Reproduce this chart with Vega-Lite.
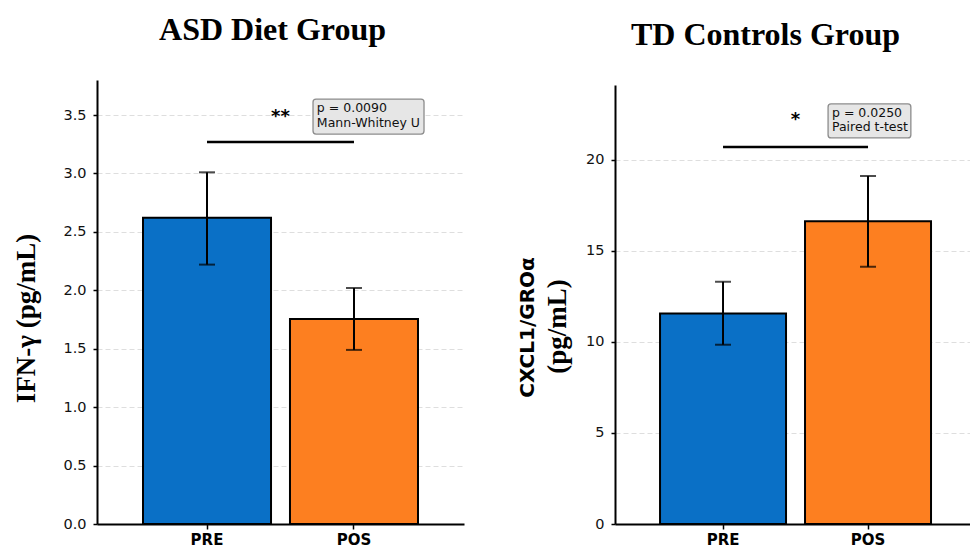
{
  "$schema": "https://vega.github.io/schema/vega-lite/v6.json",
  "background": "white",
  "padding": {"left": 12, "top": 14, "right": 0, "bottom": 0},
  "config": {"view": {"stroke": null}, "font": "DejaVu Sans"},
  "datasets": {
    "asd": [
      {"g": "PRE", "v": 2.62, "lo": 2.22, "hi": 3.01},
      {"g": "POS", "v": 1.755, "lo": 1.49, "hi": 2.02}
    ],
    "asd_sig": [{"g1": "PRE", "g2": "POS", "y": 3.27, "ys": 3.48, "s": "**"}],
    "asd_box": [{"g": "POS", "y1": 3.637, "y2": 3.337}],
    "asd_txt": [
      {"g": "POS", "t": "p = 0.0090", "y": 3.56},
      {"g": "POS", "t": "Mann-Whitney U", "y": 3.43}
    ],
    "td": [
      {"g": "PRE", "v": 11.56, "lo": 9.85, "hi": 13.31},
      {"g": "POS", "v": 16.63, "lo": 14.13, "hi": 19.12}
    ],
    "td_sig": [{"g1": "PRE", "g2": "POS", "y": 20.71, "ys": 22.2, "s": "*"}],
    "td_box": [{"g": "POS", "y1": 23.08, "y2": 21.21}],
    "td_txt": [
      {"g": "POS", "t": "p = 0.0250", "y": 22.58},
      {"g": "POS", "t": "Paired t-test", "y": 21.81}
    ]
  },
  "hconcat": [
    {
      "width": 367,
      "height": 444,
      "title": {"text": "ASD Diet Group", "font": "Liberation Serif", "fontSize": 32, "fontWeight": "bold", "color": "black", "baseline": "alphabetic", "offset": 8, "dx": -8, "anchor": "middle"},
      "layer": [
        {
          "data": {"name": "asd"},
          "mark": {"type": "bar", "stroke": "black", "strokeWidth": 2},
          "encoding": {
            "x": {"field": "g", "type": "nominal", "scale": {"domain": ["PRE", "POS"], "paddingInner": 0.129, "paddingOuter": 0.313},
              "axis": {"title": null, "labelAngle": 0, "labelFont": "DejaVu Sans", "labelFontWeight": "bold", "labelFontSize": 15, "labelColor": "black", "labelPadding": 3, "tickSize": 5, "tickWidth": 1.5, "tickColor": "black", "domainColor": "black", "domainWidth": 2, "grid": false}},
            "y": {"field": "v", "type": "quantitative", "scale": {"domain": [0, 3.8], "nice": false},
              "axis": {"title": "IFN-γ (pg/mL)", "values": [0, 0.5, 1, 1.5, 2, 2.5, 3, 3.5], "format": ".1f", "labelFont": "DejaVu Sans", "labelFontSize": 14.5, "labelColor": "#111", "labelPadding": 7, "tickSize": 4, "tickWidth": 1.5, "tickColor": "black", "domainColor": "black", "domainWidth": 2, "grid": true, "gridDash": [5, 3], "gridColor": "#dedede", "gridWidth": 1, "titleFont": "Liberation Serif", "titleFontSize": 27, "titleFontWeight": "bold", "titleColor": "black", "titlePadding": 22, "titleY": 238}},
            "color": {"field": "g", "type": "nominal", "scale": {"domain": ["PRE", "POS"], "range": ["#0a70c6", "#fd7f20"]}, "legend": null}
          }
        },
        {
          "data": {"name": "asd"},
          "mark": {"type": "rule", "color": "black", "strokeWidth": 2},
          "encoding": {
            "x": {"field": "g", "type": "nominal"},
            "y": {"field": "lo", "type": "quantitative"},
            "y2": {"field": "hi"}
          }
        },
        {
          "data": {"name": "asd"},
          "mark": {"type": "tick", "color": "black", "size": 16, "thickness": 2},
          "encoding": {
            "x": {"field": "g", "type": "nominal"},
            "y": {"field": "lo", "type": "quantitative"}
          }
        },
        {
          "data": {"name": "asd"},
          "mark": {"type": "tick", "color": "black", "size": 16, "thickness": 2},
          "encoding": {
            "x": {"field": "g", "type": "nominal"},
            "y": {"field": "hi", "type": "quantitative"}
          }
        },
        {
          "data": {"name": "asd_sig"},
          "mark": {"type": "rule", "color": "black", "strokeWidth": 2.5},
          "encoding": {
            "x": {"field": "g1", "type": "nominal"},
            "x2": {"field": "g2"},
            "y": {"field": "y", "type": "quantitative"}
          }
        },
        {
          "data": {"name": "asd_sig"},
          "mark": {"type": "text", "font": "DejaVu Sans", "fontSize": 18, "fontWeight": "bold", "color": "black", "align": "center", "baseline": "middle"},
          "encoding": {
            "x": {"field": "g1", "type": "nominal", "bandPosition": 1.074},
            "y": {"field": "ys", "type": "quantitative"},
            "text": {"field": "s"}
          }
        },
        {
          "data": {"name": "asd_box"},
          "mark": {"type": "rect", "fill": "#e6e6e6", "stroke": "#8c8c8c", "strokeWidth": 1.3, "cornerRadius": 3},
          "encoding": {
            "x": {"field": "g", "type": "nominal", "bandPosition": 0.18},
            "x2": {"field": "g", "bandPosition": 1.047},
            "y": {"field": "y1", "type": "quantitative"},
            "y2": {"field": "y2"}
          }
        },
        {
          "data": {"name": "asd_txt"},
          "mark": {"type": "text", "font": "DejaVu Sans", "fontSize": 12.5, "color": "#111", "align": "left", "baseline": "middle"},
          "encoding": {
            "x": {"field": "g", "type": "nominal", "bandPosition": 0.21},
            "y": {"field": "y", "type": "quantitative"},
            "text": {"field": "t"}
          }
        }
      ]
    },
    {
      "width": 355,
      "height": 444,
      "title": {"text": "TD Controls Group", "font": "Liberation Serif", "fontSize": 32, "fontWeight": "bold", "color": "black", "baseline": "alphabetic", "offset": 3, "dx": -27, "anchor": "middle"},
      "resolve": {"axis": {"y": "independent"}},
      "layer": [
        {
          "data": {"name": "td"},
          "mark": {"type": "bar", "stroke": "black", "strokeWidth": 2},
          "encoding": {
            "x": {"field": "g", "type": "nominal", "scale": {"domain": ["PRE", "POS"], "paddingInner": 0.131, "paddingOuter": 0.2897, "align": 0.536},
              "axis": {"title": null, "labelAngle": 0, "labelFont": "DejaVu Sans", "labelFontWeight": "bold", "labelFontSize": 15, "labelColor": "black", "labelPadding": 3, "tickSize": 5, "tickWidth": 1.5, "tickColor": "black", "domainColor": "black", "domainWidth": 2, "grid": false}},
            "y": {"field": "v", "type": "quantitative", "scale": {"domain": [0, 24.12], "range": [444, 5], "nice": false},
              "axis": {"title": "(pg/mL)", "values": [0, 5, 10, 15, 20], "format": "d", "labelFont": "DejaVu Sans", "labelFontSize": 14.5, "labelColor": "#111", "labelPadding": 7, "tickSize": 4, "tickWidth": 1.5, "tickColor": "black", "domainColor": "black", "domainWidth": 2, "grid": true, "gridDash": [5, 3], "gridColor": "#dedede", "gridWidth": 1, "titleFont": "Liberation Serif", "titleFontSize": 27, "titleFontWeight": "bold", "titleColor": "black", "titlePadding": 14, "titleY": 246}},
            "color": {"field": "g", "type": "nominal", "scale": {"domain": ["PRE", "POS"], "range": ["#0a70c6", "#fd7f20"]}, "legend": null}
          }
        },
        {
          "data": {"name": "td"},
          "mark": {"type": "rule", "color": "black", "strokeWidth": 2},
          "encoding": {
            "x": {"field": "g", "type": "nominal"},
            "y": {"field": "lo", "type": "quantitative",
              "axis": {"orient": "left", "title": "CXCL1/GROα", "labels": false, "ticks": false, "domain": false, "grid": false, "titleFont": "DejaVu Sans", "titleFontSize": 20, "titleFontWeight": "bold", "titleColor": "black", "titlePadding": 78, "titleY": 247}},
            "y2": {"field": "hi"}
          }
        },
        {
          "data": {"name": "td"},
          "mark": {"type": "tick", "color": "black", "size": 16, "thickness": 2},
          "encoding": {
            "x": {"field": "g", "type": "nominal"},
            "y": {"field": "lo", "type": "quantitative", "axis": null}
          }
        },
        {
          "data": {"name": "td"},
          "mark": {"type": "tick", "color": "black", "size": 16, "thickness": 2},
          "encoding": {
            "x": {"field": "g", "type": "nominal"},
            "y": {"field": "hi", "type": "quantitative", "axis": null}
          }
        },
        {
          "data": {"name": "td_sig"},
          "mark": {"type": "rule", "color": "black", "strokeWidth": 2.5},
          "encoding": {
            "x": {"field": "g1", "type": "nominal"},
            "x2": {"field": "g2"},
            "y": {"field": "y", "type": "quantitative", "axis": null}
          }
        },
        {
          "data": {"name": "td_sig"},
          "mark": {"type": "text", "font": "DejaVu Sans", "fontSize": 18, "fontWeight": "bold", "color": "black", "align": "center", "baseline": "middle"},
          "encoding": {
            "x": {"field": "g1", "type": "nominal", "bandPosition": 1.075},
            "y": {"field": "ys", "type": "quantitative", "axis": null},
            "text": {"field": "s"}
          }
        },
        {
          "data": {"name": "td_box"},
          "mark": {"type": "rect", "fill": "#e6e6e6", "stroke": "#8c8c8c", "strokeWidth": 1.3, "cornerRadius": 3},
          "encoding": {
            "x": {"field": "g", "type": "nominal", "bandPosition": 0.183},
            "x2": {"field": "g", "bandPosition": 0.84},
            "y": {"field": "y1", "type": "quantitative", "axis": null},
            "y2": {"field": "y2"}
          }
        },
        {
          "data": {"name": "td_txt"},
          "mark": {"type": "text", "font": "DejaVu Sans", "fontSize": 12.5, "color": "#111", "align": "left", "baseline": "middle"},
          "encoding": {
            "x": {"field": "g", "type": "nominal", "bandPosition": 0.214},
            "y": {"field": "y", "type": "quantitative", "axis": null},
            "text": {"field": "t"}
          }
        }
      ]
    }
  ],
  "spacing": 151,
  "bounds": "flush"
}
